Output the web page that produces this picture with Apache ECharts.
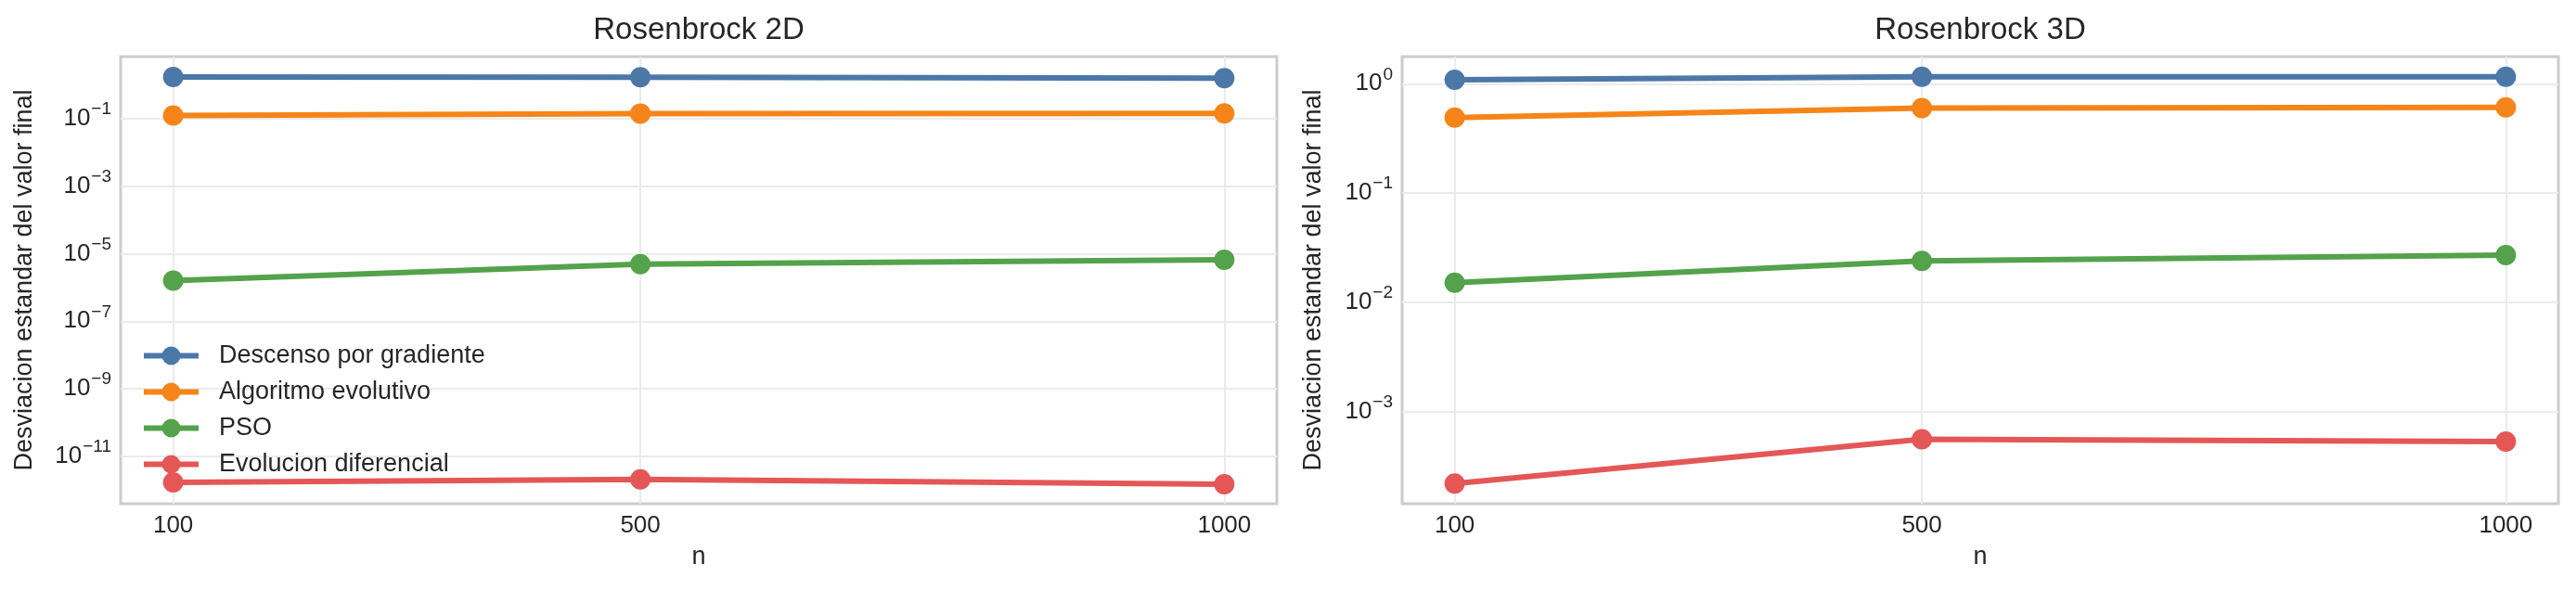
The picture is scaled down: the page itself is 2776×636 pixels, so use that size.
<!DOCTYPE html>
<html lang="es">

<head>
    <meta charset="UTF-8">
    <title>Rosenbrock - desviacion estandar</title>
    <script src="https://cdn.jsdelivr.net/npm/echarts@6.0.0/dist/echarts.min.js"></script>
    <style>
        body { margin: 0; background: #fff; }
    </style>
</head>

<body>
    <div id="main" style="width: 2776px; height: 636px;"></div>

    <script type="text/javascript">
        // tamaños de poblacion (eje x)
        const nValues = [100, 500, 1000];
        const seriesNames = ['Descenso por gradiente', 'Algoritmo evolutivo', 'PSO', 'Evolucion diferencial'];
        const colors = ['#4c78a8', '#f58518', '#54a24b', '#e45756'];

        // Rosenbrock 2D
        const gd2D = [1.68, 1.66, 1.56];
        const ae2D = [0.122, 0.140, 0.141];
        const pso2D = [1.6e-6, 4.9e-6, 6.6e-6];
        const de2D = [1.7e-12, 2.1e-12, 1.5e-12];

        // Rosenbrock 3D
        const gd3D = [1.09, 1.16, 1.16];
        const ae3D = [0.49, 0.60, 0.607];
        const pso3D = [0.0151, 0.0239, 0.027];
        const de3D = [2.19e-4, 5.56e-4, 5.3e-4];

        // ticks
        const xTicks = [100, 500, 1000];
        const yTicks2D = [1e-1, 1e-3, 1e-5, 1e-7, 1e-9, 1e-11];
        const yTicks3D = [1, 1e-1, 1e-2, 1e-3];

        const textColor = '#262626';
        const font = 'Liberation Sans, Arial, sans-serif';

        let myChart = echarts.init(document.getElementById('main'));

        function pairs(ys) {
            return ys.map((y, i) => [nValues[i], y]);
        }

        // 10^n con exponente en superindice
        function powLabel(v) {
            const e = Math.round(Math.log10(v));
            const exp = e < 0 ? '\u2212' + (-e) : String(e);
            return '{b|10}{s|' + exp + '}';
        }

        function xAxisCfg(gridIndex) {
            return {
                type: 'value',
                gridIndex: gridIndex,
                min: 55,
                max: 1045,
                name: 'n',
                nameLocation: 'middle',
                nameGap: 44,
                nameTextStyle: { fontSize: 27, color: textColor, fontFamily: font },
                axisLine: { show: false },
                axisTick: { show: false, customValues: xTicks },
                axisLabel: {
                    customValues: xTicks,
                    formatter: v => String(v),
                    fontSize: 26,
                    color: textColor,
                    fontFamily: font,
                    margin: 11
                },
                splitLine: { show: true, lineStyle: { color: '#ebebeb', width: 2 } }
            };
        }

        function yAxisCfg(gridIndex, min, max, ticks, gap) {
            return {
                type: 'log',
                logBase: 10,
                gridIndex: gridIndex,
                min: min,
                max: max,
                name: 'Desviacion estandar del valor final',
                nameLocation: 'middle',
                nameGap: gap,
                nameTextStyle: { fontSize: 27, color: textColor, fontFamily: font },
                axisLine: { show: false },
                axisTick: { show: false, customValues: ticks },
                axisLabel: {
                    customValues: ticks,
                    margin: 10,
                    formatter: powLabel,
                    rich: {
                        b: { fontSize: 26, color: textColor, fontFamily: font, lineHeight: 27, verticalAlign: 'middle' },
                        s: { fontSize: 19, color: textColor, fontFamily: font, padding: [0, 0, 20, 1], verticalAlign: 'middle' }
                    }
                },
                splitLine: { show: true, lineStyle: { color: '#ebebeb', width: 2 } }
            };
        }

        function lineSeries(name, data, idx, axisIdx) {
            return {
                name: name,
                type: 'line',
                xAxisIndex: axisIdx,
                yAxisIndex: axisIdx,
                data: pairs(data),
                symbol: 'circle',
                symbolSize: 22,
                color: colors[idx],
                lineStyle: { width: 6, color: colors[idx] },
                itemStyle: { color: colors[idx] }
            };
        }

        const data2D = [gd2D, ae2D, pso2D, de2D];
        const data3D = [gd3D, ae3D, pso3D, de3D];

        let series = [];
        data2D.forEach((d, i) => series.push(lineSeries(seriesNames[i], d, i, 0)));
        data3D.forEach((d, i) => series.push(lineSeries(seriesNames[i], d, i, 1)));

        let options = {
            animation: false,
            backgroundColor: '#ffffff',
            textStyle: { fontFamily: font },
            title: [
                {
                    text: 'Rosenbrock 2D', left: 753, top: 16, textAlign: 'center', padding: 0,
                    textStyle: { fontSize: 33, fontWeight: 'normal', color: textColor, fontFamily: font }
                },
                {
                    text: 'Rosenbrock 3D', left: 2134, top: 16, textAlign: 'center', padding: 0,
                    textStyle: { fontSize: 33, fontWeight: 'normal', color: textColor, fontFamily: font }
                }
            ],
            legend: {
                data: seriesNames,
                orient: 'vertical',
                left: 152,
                top: 370,
                padding: 0,
                itemWidth: 59,
                itemHeight: 25,
                itemGap: 12,
                lineStyle: { width: 6 },
                textStyle: { fontSize: 27, color: textColor, fontFamily: font, padding: [0, 0, 0, 17] }
            },
            grid: [
                { left: 130, top: 61, width: 1246, height: 482, show: true, borderColor: '#cccccc', borderWidth: 3 },
                { left: 1511, top: 61, width: 1246, height: 482, show: true, borderColor: '#cccccc', borderWidth: 3 }
            ],
            xAxis: [xAxisCfg(0), xAxisCfg(1)],
            yAxis: [
                yAxisCfg(0, Math.pow(10, -12.40), Math.pow(10, 0.831), yTicks2D, 90),
                yAxisCfg(1, Math.pow(10, -3.845), Math.pow(10, 0.249), yTicks3D, 82)
            ],
            series: series
        };

        myChart.setOption(options);
    </script>
</body>

</html>
